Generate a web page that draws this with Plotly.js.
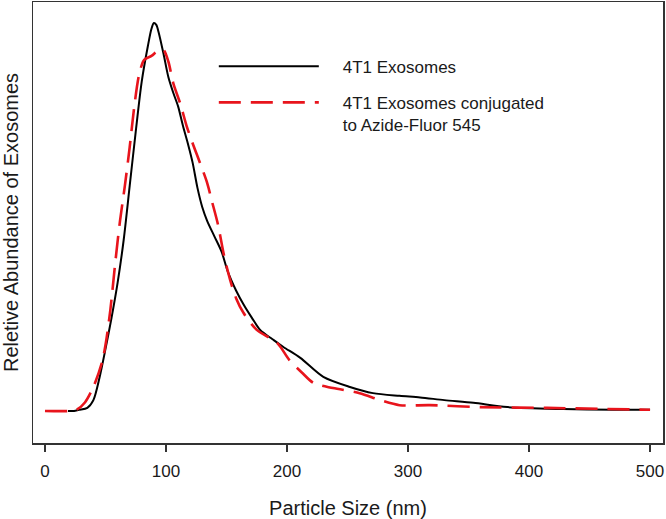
<!DOCTYPE html>
<html>
<head>
<meta charset="utf-8">
<script src="https://cdn.plot.ly/plotly-3.0.1.min.js"></script>
<style>html,body{margin:0;padding:0;background:#fff;}#chart{width:666px;height:519px;}</style>
</head>
<body>
<div id="chart"></div>
<script>
// Particle size (nm) and relative abundance
const sizeExo = [19, 24, 28, 35, 40, 45, 50, 55, 60, 65, 70, 75, 80, 85, 88, 90, 92, 94, 98, 102, 106, 110, 114, 118, 122, 126, 130, 134, 140, 146, 151, 158, 164, 171, 178, 188, 197, 211, 230, 252, 271, 293, 310, 330, 354, 382, 428, 470, 500];
const abundExo = [0, 0, 0.003, 0.008, 0.028, 0.085, 0.16, 0.24, 0.33, 0.44, 0.58, 0.72, 0.85, 0.94, 0.985, 1.0, 0.995, 0.975, 0.92, 0.86, 0.82, 0.785, 0.735, 0.69, 0.64, 0.575, 0.525, 0.49, 0.45, 0.41, 0.36, 0.31, 0.275, 0.24, 0.208, 0.185, 0.165, 0.137, 0.088, 0.062, 0.046, 0.039, 0.035, 0.028, 0.021, 0.010, 0.005, 0.003, 0.003];

const sizeConj = [0, 20, 26, 33, 40, 47, 50, 54, 58, 62, 66, 70, 74, 78, 82, 88, 94, 98, 102, 106, 112, 117, 122, 128, 134, 138, 143, 148, 153, 158, 164, 175, 192, 202, 212, 222, 238, 260, 277, 293, 318, 360, 415, 500];
const abundConj = [0, 0, 0.003, 0.022, 0.062, 0.124, 0.17, 0.26, 0.38, 0.49, 0.58, 0.68, 0.79, 0.87, 0.905, 0.915, 0.93, 0.93, 0.9, 0.845, 0.79, 0.735, 0.69, 0.64, 0.588, 0.54, 0.48, 0.40, 0.338, 0.29, 0.253, 0.209, 0.175, 0.131, 0.10, 0.072, 0.059, 0.046, 0.028, 0.015, 0.015, 0.010, 0.008, 0.003];

const seriesNames = ['4T1 Exosomes', '4T1 Exosomes conjugated<br>to Azide-Fluor 545'];
const xTicks = [0, 100, 200, 300, 400, 500];
const xTitle = 'Particle Size (nm)';
const yTitle = 'Reletive Abundance of Exosomes';

const font = 'Liberation Sans, Arial, sans-serif';
const pad = '\u00a0\u00a0\u00a0\u00a0';
const legendLabel = s => s.split('<br>').map(p => pad + p).join('<br>');

const traces = [
  {
    x: sizeExo, y: abundExo, name: legendLabel(seriesNames[0]), type: 'scatter', mode: 'lines',
    line: {color: '#000000', width: 2, shape: 'spline', smoothing: 0.8},
    legendgroup: 'a'
  },
  {
    x: sizeConj, y: abundConj, name: legendLabel(seriesNames[1]), type: 'scatter', mode: 'lines',
    line: {color: '#e8141c', width: 2.6, dash: '22px,10px', shape: 'spline', smoothing: 0.8},
    legendgroup: 'b'
  }
];

const layout = {
  width: 666, height: 519,
  margin: {l: 33, r: 3, t: 2, b: 76, pad: 0},
  paper_bgcolor: '#ffffff', plot_bgcolor: '#ffffff',
  font: {family: font, color: '#1a1a1a', size: 17},
  showlegend: true,
  legend: {
    x: 0.287, y: 0.894, xanchor: 'left', yanchor: 'top',
    bgcolor: 'rgba(0,0,0,0)', borderwidth: 0,
    font: {family: font, size: 17, color: '#1a1a1a'},
    itemwidth: 100, valign: 'top', tracegroupgap: 11, traceorder: 'grouped'
  },
  xaxis: {
    range: [-9.9, 510.7], tickvals: xTicks, ticktext: xTicks.map(String),
    ticks: 'outside', ticklen: 7, tickwidth: 1.3, tickcolor: '#333333',
    ticklabelstandoff: 5,
    showline: true, linecolor: '#333333', linewidth: 1.5, mirror: true,
    showgrid: false, zeroline: false,
    tickfont: {family: font, size: 17, color: '#1a1a1a'},
    title: {text: xTitle, font: {family: font, size: 20, color: '#1a1a1a'}, standoff: 21}
  },
  yaxis: {
    range: [-0.0825, 1.054],
    showline: true, linecolor: '#333333', linewidth: 1.5, mirror: true,
    showgrid: false, zeroline: false, showticklabels: false, ticks: '',
    title: {text: yTitle, font: {family: font, size: 20, color: '#1a1a1a'}, standoff: 10}
  }
};

Plotly.newPlot('chart', traces, layout, {displayModeBar: false, staticPlot: true});
</script>
</body>
</html>
